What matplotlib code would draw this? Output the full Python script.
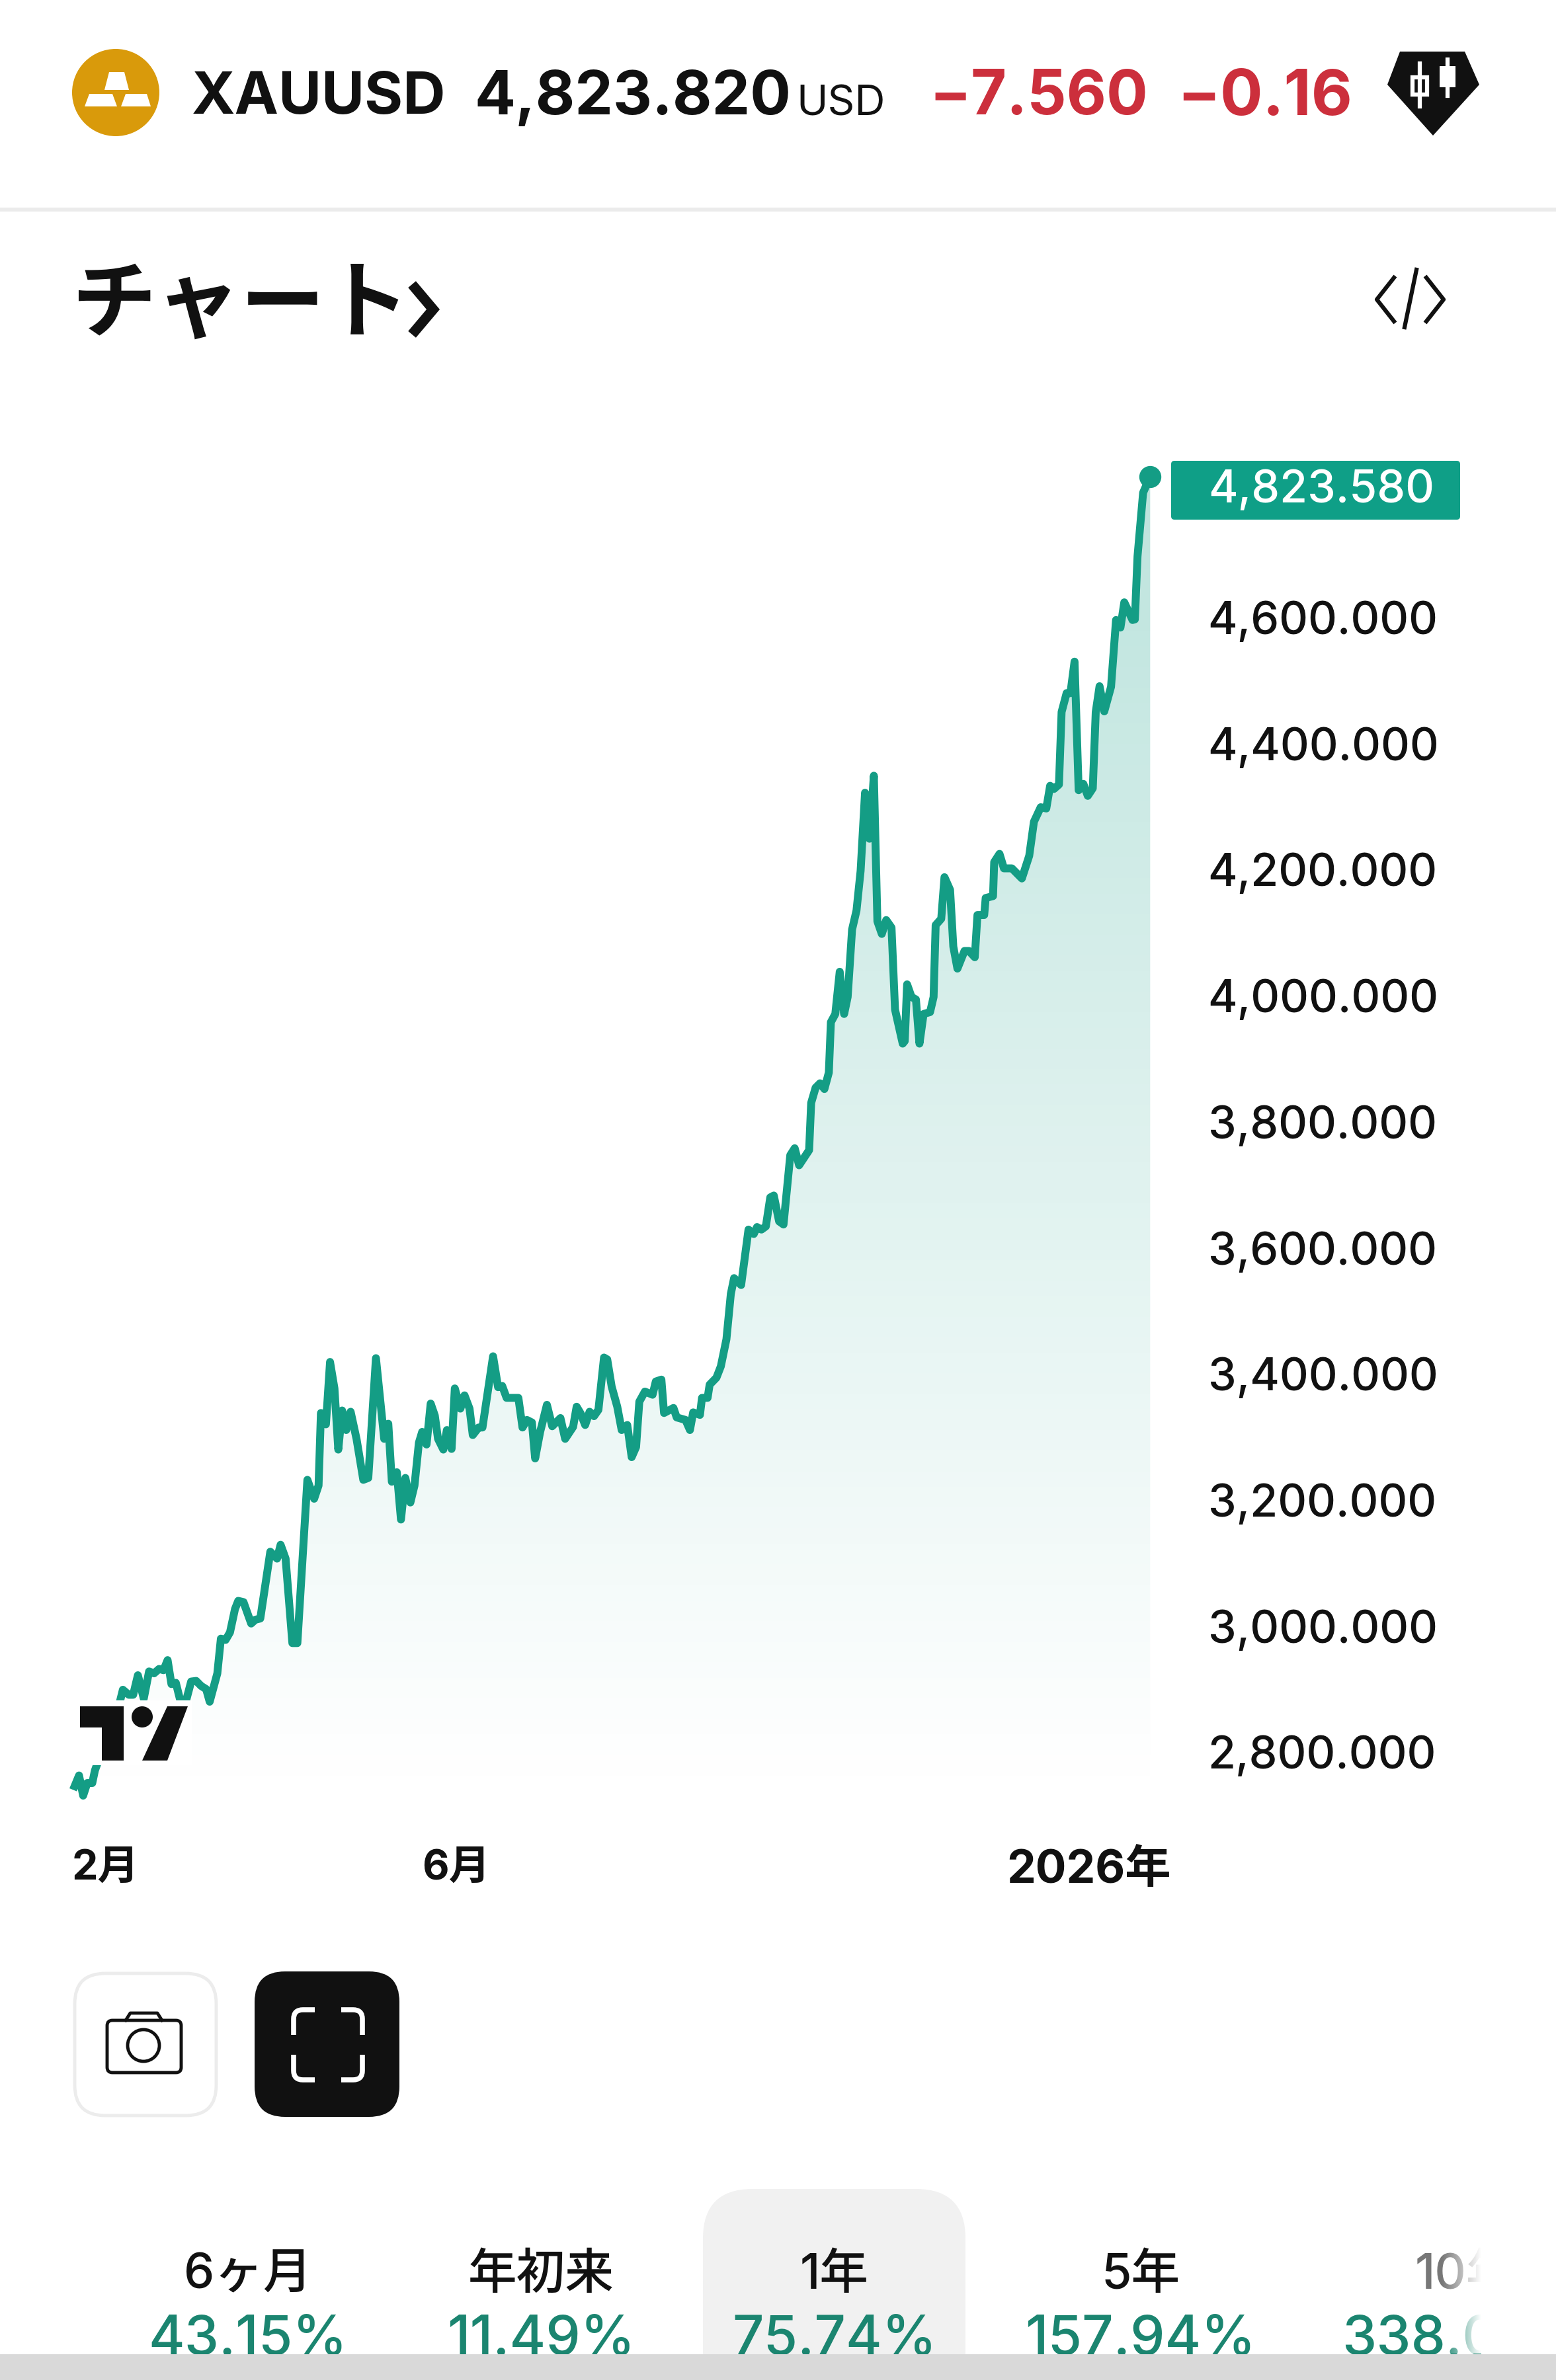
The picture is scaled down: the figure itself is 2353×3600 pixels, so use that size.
import numpy as np
import matplotlib
matplotlib.use("Agg")
import matplotlib.pyplot as plt
from matplotlib.patches import Rectangle, Circle, Polygon, FancyBboxPatch, PathPatch
from matplotlib.path import Path

# datos (dias desde el 1 de febrero de 2025, precio)
dias = [-10.6, -9.1, -7.7, -6.3, -4.6, -3.7, -0.8, 2.6, 4.3, 5.8, 7.8, 9.3, 10.9, 12.9, 14.7, 16.4, 18.1, 19.6, 21.0,
        22.3, 23.8, 25.3, 27.3, 29.0, 30.7, 32.4, 34.1, 35.3, 37.9, 39.1, 40.7, 42.2, 43.9, 45.0, 46.8, 49.4, 50.8,
        52.5, 55.9, 58.2, 59.4, 61.1, 63.4, 65.1, 68.5, 70.8, 72.3, 73.1, 74.8, 76.2, 77.7, 79.0, 80.3, 81.7, 83.2,
        85.2, 87.5, 89.2, 91.8, 94.6, 96.0, 97.2, 98.9, 100.3, 101.8, 103.5, 104.9, 106.4, 107.5, 109.0, 110.4,
        111.8, 112.9, 114.7, 115.9, 117.5, 118.6, 120.5, 121.9, 123.6, 124.7, 126.7, 128.0, 131.6, 133.3, 134.7,
        136.2, 140.2, 141.6, 143.1, 144.8, 145.9, 147.6, 149.9, 151.7, 154.5, 156.1, 158.8, 160.0, 161.4, 162.9,
        164.4, 165.9, 167.4, 169.3, 170.4, 171.9, 173.8, 175.3, 177.2, 178.7, 180.2, 181.3, 183.2, 185.8, 186.9,
        188.8, 189.7, 192.9, 194.0, 197.0, 198.5, 199.6, 201.9, 202.6, 204.5, 205.2, 207.5, 209.0, 210.9, 212.4,
        213.5, 215.9, 218.4, 220.2, 221.3, 222.8, 224.3, 225.8, 227.0, 228.8, 230.3, 232.6, 234.1, 235.6, 239.0,
        239.7, 241.2, 242.7, 244.2, 245.7, 246.4, 247.9, 249.4, 250.9, 252.1, 253.6, 255.1, 256.5, 258.0, 259.5,
        261.0, 262.2, 263.7, 265.2, 267.0, 268.2, 270.8, 271.5, 272.3, 273.8, 275.3, 276.5, 277.9, 280.1, 281.3,
        282.0, 283.9, 285.0, 286.9, 288.0, 289.4, 291.8, 293.3, 295.3, 296.2, 298.5, 299.0, 301.5, 301.9, 303.7,
        305.2, 307.9, 311.3, 313.8, 315.4, 317.7, 319.6, 320.9, 322.2, 323.9, 324.8, 326.5, 327.8, 329.2, 330.6,
        332.2, 333.7, 335.4, 336.4, 337.7, 339.3, 341.6, 343.3, 344.8, 346.1, 348.9, 349.7, 350.6, 352.5, 354.9]
precios = [2746, 2763, 2731, 2751, 2751, 2771, 2808, 2848, 2871, 2899, 2891, 2891, 2922, 2885, 2928, 2925, 2932, 2930,
           2946, 2908, 2910, 2882, 2882, 2912, 2913, 2905, 2900, 2880, 2925, 2980, 2978, 2990, 3027, 3040, 3038, 3004,
           3010, 3012, 3118, 3107, 3129, 3107, 2973, 2973, 3232, 3202, 3223, 3338, 3320, 3419, 3377, 3280, 3342, 3311,
           3340, 3297, 3232, 3235, 3425, 3297, 3321, 3229, 3244, 3169, 3235, 3196, 3223, 3291, 3308, 3288, 3353, 3334,
           3297, 3280, 3311, 3281, 3377, 3345, 3366, 3345, 3303, 3315, 3315, 3428, 3379, 3381, 3362, 3362, 3315, 3327,
           3323, 3266, 3308, 3351, 3317, 3330, 3297, 3316, 3348, 3337, 3319, 3340, 3333, 3343, 3426, 3423, 3380, 3348,
           3311, 3319, 3268, 3284, 3356, 3372, 3367, 3388, 3391, 3338, 3346, 3331, 3327, 3311, 3339, 3335, 3362, 3362,
           3383, 3394, 3412, 3455, 3527, 3552, 3541, 3629, 3622, 3633, 3629, 3634, 3680, 3683, 3642, 3637, 3747, 3758,
           3731, 3755, 3830, 3854, 3861, 3852, 3878, 3958, 3971, 4038, 3971, 3998, 4105, 4135, 4198, 4322, 4249, 4349,
           4118, 4098, 4120, 4108, 3978, 3924, 3928, 4018, 3998, 3994, 3924, 3971, 3974, 3998, 4112, 4122, 4188, 4168,
           4078, 4043, 4071, 4071, 4061, 4128, 4128, 4155, 4158, 4212, 4225, 4202, 4202, 4186, 4222, 4276, 4299, 4297,
           4333, 4328, 4335, 4450, 4480, 4480, 4530, 4326, 4336, 4317, 4329, 4450, 4491, 4451, 4490, 4596, 4584, 4624,
           4596, 4597, 4697, 4798, 4823.58]

ticks_y = [4600, 4400, 4200, 4000, 3800, 3600, 3400, 3200, 3000, 2800]
ticks_x = [0, 119, 334]
etiquetas_x = ["2月", "6月", "2026年"]

periodos = ["6ヶ月", "年初来", "1年", "5年", "10年"]
cambios = ["43.15%", "11.49%", "75.74%", "157.94%", "338.09%"]

VERDE = "#149d85"
NEGRO = "#111111"
ROJO = "#cc2f3c"
LATINA = ["Inter", "Noto Sans CJK JP", "DejaVu Sans"]
CJK = ["Noto Sans CJK JP", "DejaVu Sans"]
plt.rcParams["font.family"] = LATINA

W, H = 2353, 3600
fig = plt.figure(figsize=(W / 100, H / 100), dpi=100, facecolor="white")

# grafica principal, colocada en pixeles de la captura
x0, x1, y0, y1 = 100, 1760, 650, 2750
ax = fig.add_axes([x0 / W, 1 - y1 / H, (x1 - x0) / W, (y1 - y0) / H], facecolor="none")
for lado in ax.spines.values():
    lado.set_visible(False)

base = 2730
relleno = ax.fill_between(dias, precios, base, color="none", lw=0)
filas = 256
grad = np.zeros((filas, 1, 4))
grad[:, 0, 0:3] = matplotlib.colors.to_rgb("#089981")
grad[:, 0, 3] = np.linspace(0.27, 0.0, filas)
img = ax.imshow(grad, extent=[dias[0], dias[-1], base, precios[-1]], aspect="auto", zorder=1, origin="upper")
img.set_clip_path(relleno.get_paths()[0], transform=ax.transData)
ax.set_xlim((x0 - 160) / 4.45, (x1 - 160) / 4.45)
ax.set_ylim(4600 - (y1 - 934) / 0.9535, 4600 + (934 - y0) / 0.9535)

ax.plot(dias, precios, color=VERDE, lw=8.6, solid_joinstyle="round", zorder=2)
ax.plot(dias[-1], precios[-1], "o", color=VERDE, ms=23, zorder=3)

ax.yaxis.tick_right()
ax.set_yticks(ticks_y)
ax.set_yticklabels([f"{v:,.3f}" for v in ticks_y], fontsize=49, fontweight="medium", color=NEGRO)
ax.tick_params(axis="y", length=0, pad=48)
ax.set_xticks(ticks_x)
ax.set_xticklabels(etiquetas_x, fontsize=45, fontweight="bold", color=NEGRO)
ax.get_xticklabels()[2].set_fontsize(50)
ax.tick_params(axis="x", length=0, pad=34)

# capa de interfaz en pixeles
ui = fig.add_axes([0, 0, 1, 1], facecolor="none")
ui.set_xlim(0, W)
ui.set_ylim(H, 0)
ui.axis("off")

# caja blanca y logo de TradingView
ui.add_patch(Rectangle((100, 2572), 190, 98, color="white", lw=0, zorder=1))
ui.add_patch(Polygon([(121, 2581), (187, 2581), (187, 2663), (154, 2663), (154, 2613), (121, 2613)], color=NEGRO, lw=0, zorder=2))
ui.add_patch(Circle((215, 2597), 16, color=NEGRO, lw=0, zorder=2))
ui.add_patch(Polygon([(253, 2581), (284, 2581), (253, 2663), (215, 2663)], color=NEGRO, lw=0, zorder=2))

# cabecera
ui.add_patch(Circle((175, 140), 66, color="#d99a0b", lw=0))
ui.add_patch(Polygon([(165, 109), (188, 109), (195, 136), (158, 136)], color="white", lw=0))
ui.add_patch(Polygon([(135, 142), (170, 142), (177, 161), (128, 161)], color="white", lw=0))
ui.add_patch(Polygon([(190, 142), (222, 142), (228, 161), (183, 161)], color="white", lw=0))
ui.text(290, 149, "XAUUSD", fontsize=64, fontweight="bold", color=NEGRO, va="center", ha="left")
ui.text(717, 149, "4,823.820", fontsize=66, fontweight="bold", color=NEGRO, va="center", ha="left")
ui.text(1204, 158, "USD", fontsize=46, color=NEGRO, va="center", ha="left")
ui.text(1405, 149, "−7.560", fontsize=67, fontweight="bold", color=ROJO, va="center", ha="left")
ui.text(1780, 149, "−0.16", fontsize=69, fontweight="bold", color=ROJO, va="center", ha="left")
ui.add_patch(Polygon([(2117, 78), (2215, 78), (2237, 128), (2167, 205), (2098, 128)], color=NEGRO, lw=0))
ui.plot([2147, 2147], [96, 161], color="white", lw=4.5)
ui.add_patch(Rectangle((2136, 117), 22, 26, facecolor=NEGRO, edgecolor="white", lw=4.5))
ui.plot([2189, 2189], [90, 145], color="white", lw=4.5)
ui.add_patch(Rectangle((2177, 100), 24, 32, color="white", lw=0))
ui.add_patch(Rectangle((0, 314), W, 6, color="#ebebeb", lw=0))

# titulo de la seccion
ui.text(108, 462, "チャート", fontsize=92, fontweight="bold", family=CJK, color=NEGRO, va="center", ha="left")
ui.plot([628, 655, 628], [436, 468, 500], color=NEGRO, lw=11, solid_joinstyle="miter")
ui.plot([2108, 2082, 2108], [420, 453, 486], color=NEGRO, lw=4.5)
ui.plot([2157, 2183, 2157], [420, 453, 486], color=NEGRO, lw=4.5)
ui.plot([2142, 2124], [408, 495], color=NEGRO, lw=4.5)

# etiqueta del ultimo precio
ui.add_patch(FancyBboxPatch((1771, 697), 437, 89, boxstyle="round,pad=0,rounding_size=5", color="#0f9f87", lw=0))
ui.text(1827, 742, f"{precios[-1]:,.3f}", fontsize=49, fontweight="medium", color="white", va="center", ha="left")

# botones
ui.add_patch(FancyBboxPatch((113, 2985), 214, 215, boxstyle="round,pad=0,rounding_size=46", facecolor="white", edgecolor="#ececec", lw=3.5))
ui.add_patch(FancyBboxPatch((162, 3056), 112, 79, boxstyle="round,pad=0,rounding_size=8", facecolor="white", edgecolor=NEGRO, lw=3.5))
ui.plot([190, 197, 238, 245], [3056, 3045, 3045, 3056], color=NEGRO, lw=3.5)
ui.add_patch(Circle((217, 3094), 24, facecolor="white", edgecolor=NEGRO, lw=3.5))
ui.add_patch(FancyBboxPatch((385, 2982), 219, 220, boxstyle="round,pad=0,rounding_size=46", color=NEGRO, lw=0))
for sx, sy, cx, cy in [(-1, -1, 444, 3040), (1, -1, 548, 3040), (-1, 1, 444, 3146), (1, 1, 548, 3146)]:
    esquina = Path([(cx, cy - sy * 38), (cx, cy - sy * 14), (cx, cy), (cx - sx * 14, cy), (cx - sx * 32, cy)],
                   [Path.MOVETO, Path.LINETO, Path.CURVE3, Path.CURVE3, Path.LINETO])
    ui.add_patch(PathPatch(esquina, facecolor="none", edgecolor="white", lw=5.5))

# pestañas de periodo
ui.add_patch(FancyBboxPatch((1063, 3311), 397, 320, boxstyle="round,pad=0,rounding_size=75", color="#f1f1f1", lw=0, zorder=1))
centros = [375, 818, 1262, 1725, 2215]
centros_pct = [375, 818, 1262, 1725, 2215]
corte = Rectangle((0, 0), 2240, 3561, transform=ui.transData)
for i in range(len(periodos)):
    color = "#777777" if i == 4 else NEGRO
    t = ui.text(centros[i], 3442, periodos[i], fontsize=53, fontweight="medium", color=color, va="center", ha="center", zorder=2)
    t.set_clip_path(corte)
    t = ui.text(centros_pct[i], 3540, cambios[i], fontsize=60, fontweight="medium", color="#1b8570", va="center", ha="center", zorder=2)
    t.set_clip_path(corte)

# difuminado a la derecha y barra gris inferior
fade = np.ones((1, 64, 4))
fade[0, :, 3] = np.linspace(0, 1, 64)
ui.imshow(fade, extent=[2180, 2240, 3560, 3380], aspect="auto", zorder=3)
ui.set_xlim(0, W)
ui.set_ylim(H, 0)
ui.add_patch(Rectangle((2240, 3380), W - 2240, 181, color="white", lw=0, zorder=3))
ui.add_patch(Rectangle((0, 3561), W, 39, color="#d9d9d9", lw=0, zorder=4))

fig.savefig("out.png", dpi=100)
